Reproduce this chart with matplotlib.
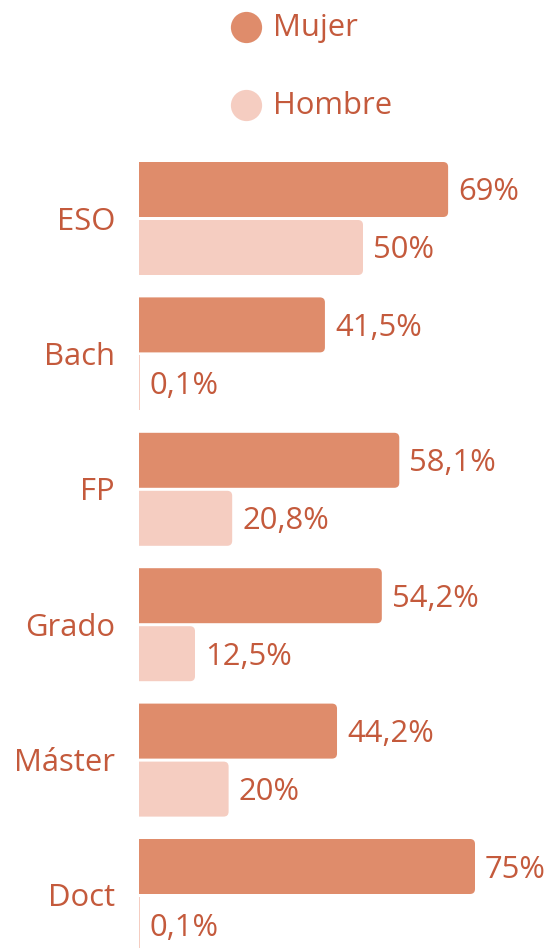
import matplotlib
matplotlib.use("Agg")
import matplotlib.pyplot as plt
from matplotlib.patches import FancyBboxPatch, Rectangle
from matplotlib.lines import Line2D

categories = ["ESO", "Bach", "FP", "Grado", "Máster", "Doct"]
mujer = [69, 41.5, 58.1, 54.2, 44.2, 75]
hombre = [50, 0.1, 20.8, 12.5, 20, 0.1]
mujer_labels = ["69%", "41,5%", "58,1%", "54,2%", "44,2%", "75%"]
hombre_labels = ["50%", "0,1%", "20,8%", "12,5%", "20%", "0,1%"]
series_names = ["Mujer", "Hombre"]

C_MUJER = "#DF8C6B"
C_HOMBRE = "#F5CDC1"
C_TEXT = "#C45A3C"

plt.rcParams['font.family'] = ['Open Sans', 'DejaVu Sans']

W, H = 557, 948
fig = plt.figure(figsize=(W / 100, H / 100), dpi=100)

px_per_pct = 4.48
pitch = 135.4
left_px = 139
top_px, bottom_px = 148, 948
center0 = 218.5

ax = fig.add_axes([left_px / W, 0, (W - left_px) / W, (bottom_px - top_px) / H])
ax.set_xlim(0, (W - left_px) / px_per_pct)
ax.set_ylim((bottom_px - center0) / pitch, (top_px - center0) / pitch)
ax.axis("off")

bar_h = 55 / pitch
gap = 3 / pitch
rx = 5 / px_per_pct
ry = 5 / pitch
min_w = 1.2 / px_per_pct
tdy = 3 / pitch  # text vertical nudge (down)

def draw_bar(y0, val, color):
    if val < 2:
        ax.add_patch(Rectangle((0, y0), max(val, min_w), bar_h, facecolor=color, edgecolor="none"))
    else:
        p = FancyBboxPatch((-3, y0), val + 3, bar_h,
                           boxstyle=f"round,pad=0,rounding_size={rx}",
                           mutation_aspect=ry / rx,
                           facecolor=color, edgecolor="none", clip_on=True)
        ax.add_patch(p)

fs = 22.3
for i, cat in enumerate(categories):
    ym = i - gap / 2 - bar_h
    yh = i + gap / 2
    draw_bar(ym, mujer[i], C_MUJER)
    draw_bar(yh, hombre[i], C_HOMBRE)
    off = 10 / px_per_pct
    ax.text(mujer[i] + off, ym + bar_h / 2 + tdy, mujer_labels[i], color=C_TEXT,
            fontsize=fs, va="center", ha="left")
    ax.text(hombre[i] + off, yh + bar_h / 2 + tdy, hombre_labels[i], color=C_TEXT,
            fontsize=fs, va="center", ha="left")
    ax.text(-24 / px_per_pct, i + tdy, cat, color=C_TEXT, fontsize=fs,
            va="center", ha="right", clip_on=False)

# legend
for name, col, ypx in [(series_names[0], C_MUJER, 27), (series_names[1], C_HOMBRE, 105)]:
    fig.add_artist(Line2D([245.5 / W], [1 - ypx / H], marker="o", markersize=22.5,
                          color=col, markeredgewidth=0, linestyle="none",
                          transform=fig.transFigure))
    fig.text(273 / W, 1 - (ypx + 1) / H, name, color=C_TEXT, fontsize=fs,
             va="center", ha="left")

fig.savefig("out.png", dpi=100)
